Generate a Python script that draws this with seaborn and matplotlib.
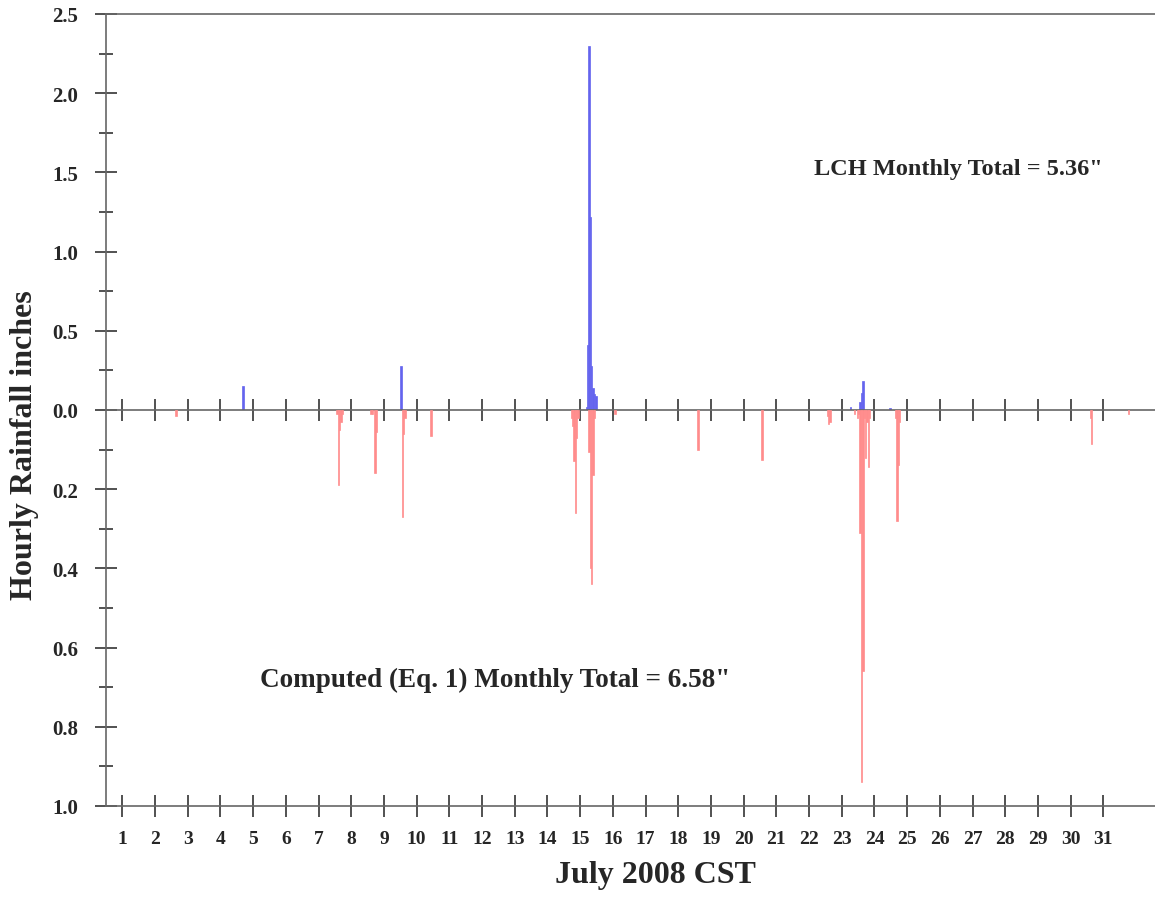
import numpy as np
import pandas as pd
import seaborn as sns
import matplotlib.pyplot as plt
from matplotlib.ticker import FixedLocator

# LCH observed hourly rainfall (day of July, hour CST, inches)
lch_day = [4, 9, 15, 15, 15, 15, 15, 15, 15, 15, 23, 23, 23, 23, 24]
lch_hour = [16, 12, 4, 5, 6, 7, 8, 9, 10, 11, 6, 13, 14, 15, 11]
lch_in = [0.15, 0.28, 0.02, 0.41, 2.30, 1.22, 0.28, 0.14, 0.10, 0.09,
          0.02, 0.05, 0.11, 0.18, 0.01]

# Computed (Eq. 1) hourly rainfall
calc_day = [2, 7, 7, 7, 7, 7, 8, 8, 8, 8, 9, 9, 9, 10,
            14, 14, 14, 14, 14, 14, 15, 15, 15, 15, 15, 16, 18, 20,
            22, 22, 22, 23, 23, 23, 23, 23, 23, 23, 23, 23, 23, 23,
            24, 24, 24, 24, 30, 30, 31]
calc_hour = [15, 13, 14, 15, 16, 17, 14, 15, 17, 18, 13, 14, 15, 10,
             17, 18, 19, 20, 21, 22, 6, 7, 8, 9, 10, 1, 14, 13,
             13, 14, 15, 9, 11, 12, 13, 14, 15, 16, 17, 18, 19, 20,
             15, 16, 17, 18, 14, 15, 18]
calc_in = [0.015, 0.01, 0.19, 0.05, 0.03, 0.01, 0.01, 0.01, 0.16, 0.055, 0.27, 0.06, 0.02, 0.065,
           0.02, 0.04, 0.13, 0.26, 0.07, 0.02, 0.105, 0.40, 0.44, 0.165, 0.02, 0.01, 0.10, 0.125,
           0.015, 0.035, 0.03, 0.01, 0.02, 0.01, 0.31, 0.94, 0.66, 0.02, 0.12, 0.03, 0.145, 0.02,
           0.02, 0.28, 0.14, 0.03, 0.02, 0.085, 0.01]

day_ticks = list(range(1, 32))
upper_ticks = [0.0, 0.5, 1.0, 1.5, 2.0, 2.5]
lower_ticks = [0.2, 0.4, 0.6, 0.8, 1.0]

lch = pd.DataFrame({'t': np.array(lch_day) + (np.array(lch_hour) + 0.5) / 24, 'rain': lch_in})
calc = pd.DataFrame({'t': np.array(calc_day) + (np.array(calc_hour) + 0.5) / 24, 'rain': calc_in})

sns.set_style('white')
plt.rcParams['font.family'] = ['Liberation Serif', 'DejaVu Serif']
plt.rcParams['font.weight'] = 'bold'

W, H = 1155, 903
fig = plt.figure(figsize=(W / 100, H / 100), dpi=100)
left = 106 / W
ax_top = fig.add_axes([left, 1 - 411 / H, 1 - left, 396 / H])
ax_bot = fig.add_axes([left, 1 - 807 / H, 1 - left, 396 / H])

# one bin per hour, weighted by the hourly rainfall
blue, red = '#6464ee', '#ff8c8c'
hist_kw = dict(x='t', weights='rain', bins=31 * 24, binrange=(1, 32),
               element='bars', linewidth=0.5, alpha=1)
sns.histplot(data=lch, color=blue, edgecolor=blue, ax=ax_top, **hist_kw)
sns.histplot(data=calc, color=red, edgecolor=red, ax=ax_bot, **hist_kw)

# hide the empty hours so their edges don't paint over the zero line
for ax in (ax_top, ax_bot):
    for p in ax.patches:
        if p.get_height() == 0:
            p.set_visible(False)

spine_col = '#666666'
tick_col = '#333333'
xmin, xmax = 0.5, 0.5 + (W - 106) / 32.7

for ax in (ax_top, ax_bot):
    ax.set_xlim(xmin, xmax)
    ax.set_xlabel('')
    ax.set_ylabel('')
    ax.spines['right'].set_visible(False)
    for s in ax.spines.values():
        s.set_color(spine_col)
        s.set_linewidth(1.2)
    ax.xaxis.set_major_locator(FixedLocator(day_ticks))
    ax.tick_params(axis='x', direction='inout', length=16.5, width=1.2, color=tick_col,
                   pad=9, bottom=True)
    ax.tick_params(axis='y', which='major', direction='inout', length=16.5, width=1.2,
                   color=tick_col, pad=12, labelsize=15, left=True)
    ax.tick_params(axis='y', which='minor', direction='inout', length=9.5, width=1.2,
                   color=tick_col, left=True)
    ax.patch.set_alpha(0)

ax_top.set_ylim(0, 2.5)
ax_top.set_yticks(upper_ticks)
ax_top.set_yticklabels([f'{v:.1f}' for v in upper_ticks])
ax_top.yaxis.set_minor_locator(FixedLocator([0.25, 0.75, 1.25, 1.75, 2.25]))
ax_top.tick_params(axis='x', labelbottom=False)

ax_bot.set_ylim(1.0, 0.0)
ax_bot.set_yticks(lower_ticks)
ax_bot.set_yticklabels([f'{v:.1f}' for v in lower_ticks])
ax_bot.yaxis.set_minor_locator(FixedLocator([0.1, 0.3, 0.5, 0.7, 0.9]))
ax_bot.spines['top'].set_visible(False)
ax_bot.set_xticks(day_ticks)
ax_bot.set_xticklabels([str(d) for d in day_ticks], fontsize=14)

ax_top.text(958 / W, 1 - 170 / H, 'LCH Monthly Total = 5.36"', transform=fig.transFigure,
            ha='center', va='center', fontsize=17.5, fontweight='bold')
ax_bot.text(495 / W, 1 - 680 / H, 'Computed (Eq. 1) Monthly Total = 6.58"', transform=fig.transFigure,
            ha='center', va='center', fontsize=19.5, fontweight='bold')

fig.text(25 / W, 1 - 445 / H, 'Hourly Rainfall inches', rotation=90, ha='center', va='center',
         fontsize=23, fontweight='bold')
fig.text(655 / W, 1 - 876 / H, 'July 2008 CST', ha='center', va='center',
         fontsize=23, fontweight='bold')

fig.savefig('out.png', dpi=100)
